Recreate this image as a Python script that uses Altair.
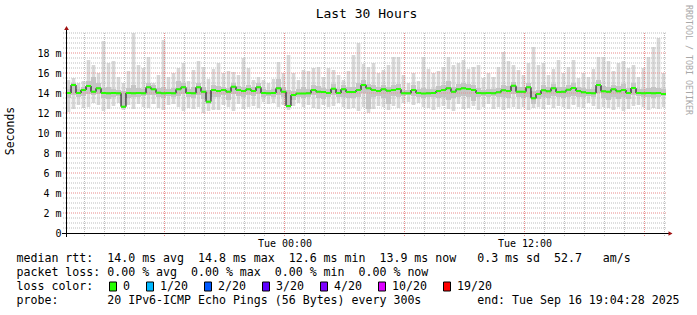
import altair as alt
import pandas as pd

# ---- data (15-minute columns over 30 hours) ----
median = [14.0, 14.8, 14.0, 14.3, 14.7, 14.13, 14.47, 14.0, 13.97, 14.0, 13.97, 12.63, 14.0, 13.97, 14.0,
          13.97, 14.57, 14.37, 14.03, 13.97, 14.0, 13.97, 14.37, 14.57, 14.0, 13.97, 14.57, 14.13, 13.13, 14.3,
          14.2, 14.3, 14.13, 14.63, 14.3, 14.2, 14.37, 14.2, 14.57, 14.0, 13.97, 14.0, 14.47, 14.13, 12.7,
          13.8, 13.95, 13.95, 13.97, 14.3, 14.13, 14.1, 14.0, 14.43, 14.0, 14.37, 14.1, 14.1, 14.3, 14.8,
          14.47, 14.3, 14.2, 14.37, 14.23, 14.3, 14.4, 13.97, 13.97, 14.3, 14.0, 13.95, 13.97, 14.0, 14.2,
          14.3, 14.47, 14.13, 14.37, 14.47, 14.4, 14.3, 14.0, 13.97, 14.0, 13.97, 14.07, 14.27, 14.2, 14.73,
          14.13, 14.13, 14.57, 13.47, 13.9, 14.27, 14.17, 14.47, 14.1, 14.13, 14.33, 14.5, 14.2, 14.07, 14.0,
          13.97, 14.8, 14.17, 14.13, 14.37, 14.17, 14.3, 14.0, 14.5, 14.0, 13.97, 14.0, 13.97, 14.0, 13.9]

smoke_hi = [15.3, 15.5, 15.0, 15.2, 17.3, 16.8, 16.0, 19.2, 17.0, 17.2, 15.6, 15.0, 16.2, 20.0, 16.8,
            16.5, 17.6, 15.0, 15.8, 19.3, 15.6, 16.0, 16.5, 17.0, 15.2, 16.3, 17.2, 16.6, 15.4, 16.4,
            17.0, 16.0, 16.2, 16.1, 15.8, 17.5, 16.5, 15.3, 15.6, 15.3, 15.0, 15.4, 17.1, 16.0, 17.8,
            16.0, 15.3, 16.3, 16.2, 16.5, 16.6, 15.6, 16.5, 16.3, 15.8, 15.3, 16.2, 17.8, 19.0, 16.9,
            16.6, 17.0, 16.0, 16.3, 16.8, 17.6, 17.6, 15.8, 15.0, 16.0, 15.2, 17.6, 16.4, 16.0, 16.2,
            16.6, 17.6, 16.8, 17.0, 17.3, 16.4, 16.6, 16.8, 15.5, 16.0, 15.6, 16.6, 18.1, 17.2, 16.8,
            16.3, 15.8, 17.0, 18.6, 16.8, 17.0, 15.8, 16.4, 17.3, 16.0, 16.6, 17.3, 15.5, 16.0, 15.6,
            16.4, 17.6, 17.6, 17.2, 16.2, 17.0, 17.2, 16.5, 16.8, 15.6, 16.5, 17.6, 18.6, 19.5, 16.0]

smoke_lo = [12.1, 12.4, 12.8, 12.5, 12.6, 13.0, 12.8, 12.2, 12.4, 12.7, 13.0, 12.3, 12.8, 12.4, 12.9,
            12.6, 12.5, 12.9, 12.5, 12.3, 12.8, 12.9, 12.6, 12.2, 12.5, 12.4, 12.6, 12.0, 12.2, 12.3,
            12.3, 12.8, 12.6, 12.2, 12.9, 12.4, 12.6, 12.7, 12.5, 13.1, 12.9, 13.0, 12.6, 12.8, 12.3,
            12.7, 13.0, 12.6, 12.8, 12.5, 12.4, 12.8, 12.6, 12.7, 13.0, 12.6, 12.4, 12.5, 12.2, 12.6,
            12.0, 12.4, 12.7, 12.6, 12.3, 12.7, 12.5, 13.0, 13.1, 12.8, 13.0, 12.6, 12.5, 12.3, 12.6,
            12.7, 12.4, 12.2, 12.9, 12.4, 12.5, 12.7, 12.3, 12.6, 12.9, 12.4, 12.6, 12.3, 12.5, 12.6,
            12.4, 12.6, 12.3, 12.5, 12.6, 12.4, 12.8, 12.5, 12.7, 12.6, 12.4, 12.8, 12.6, 12.5, 13.0,
            12.7, 12.4, 12.6, 12.5, 12.3, 12.6, 12.2, 12.4, 12.7, 12.8, 12.6, 12.3, 12.5, 12.4, 12.6]

core_hi = [14.4, 15.0, 14.4, 14.6, 15.2, 15.6, 15.0, 14.5, 14.6, 14.4, 14.3, 14.2, 14.5, 14.8, 14.5,
           14.4, 15.0, 14.8, 14.5, 14.6, 14.4, 14.5, 15.2, 15.0, 14.4, 14.6, 15.0, 14.6, 14.3, 14.8,
           14.7, 14.6, 14.5, 15.0, 14.7, 14.6, 14.8, 14.6, 15.0, 14.4, 14.3, 14.4, 15.4, 14.6, 14.3,
           14.2, 14.4, 14.6, 14.4, 14.8, 14.7, 14.5, 14.4, 14.9, 14.4, 14.8, 14.6, 14.6, 15.0, 15.3,
           14.9, 14.8, 14.6, 14.8, 14.6, 14.8, 14.9, 14.3, 14.3, 14.8, 14.4, 14.5, 14.4, 14.4, 14.7,
           14.8, 15.2, 14.6, 14.9, 15.0, 14.9, 14.8, 14.5, 14.3, 14.4, 14.4, 14.5, 14.8, 14.7, 15.1,
           14.6, 14.6, 15.0, 14.2, 14.3, 14.8, 14.6, 14.9, 14.6, 14.6, 14.8, 15.0, 14.6, 14.5, 14.4,
           14.4, 15.3, 14.7, 14.6, 14.8, 14.7, 14.9, 14.5, 15.0, 14.4, 14.4, 14.5, 14.6, 14.5, 14.4]

core_lo = [13.5, 13.8, 13.6, 13.7, 13.9, 13.8, 13.9, 13.5, 13.4, 13.6, 13.7, 12.5, 13.5, 13.6, 13.6,
           13.7, 13.8, 13.8, 13.6, 13.5, 13.7, 13.6, 13.7, 13.9, 13.6, 13.5, 13.8, 13.4, 12.9, 13.6,
           13.6, 13.8, 13.3, 13.9, 13.7, 13.6, 13.8, 13.7, 13.9, 13.6, 13.7, 13.6, 13.8, 13.6, 12.5,
           13.3, 13.6, 13.5, 13.6, 13.8, 13.5, 13.4, 13.6, 13.8, 13.6, 13.6, 13.5, 13.5, 13.6, 14.0,
           12.4, 13.6, 13.7, 13.5, 12.9, 13.7, 13.6, 13.7, 13.8, 13.7, 13.6, 13.5, 13.6, 13.6, 13.5,
           13.6, 13.3, 13.5, 13.6, 13.7, 13.6, 13.2, 13.6, 13.7, 13.6, 13.7, 13.6, 13.6, 13.5, 13.9,
           13.6, 13.5, 13.6, 12.9, 13.4, 13.6, 13.5, 13.7, 13.6, 13.5, 13.6, 13.7, 13.6, 13.6, 13.7,
           13.6, 14.0, 13.5, 13.3, 13.6, 13.4, 13.6, 13.4, 13.8, 13.7, 13.6, 13.6, 13.5, 13.6, 13.7]

y_ticks = [0, 2, 4, 6, 8, 10, 12, 14, 16, 18]
x_ticks = [24, 36]            # hours since Monday 00:00 -> Tue 00:00, Tue 12:00
x_tick_labels = ["Tue 00:00", "Tue 12:00"]

loss_labels = ["0", "1/20", "2/20", "3/20", "4/20", "10/20", "19/20"]
loss_colors = ["#26ff00", "#00b8ff", "#0059ff", "#5e00ff", "#7e00ff", "#dd00ff", "#ff0000"]

title = "Last 30 Hours"
legend_line1 = "median rtt:  14.0 ms avg  14.8 ms max  12.6 ms min  13.9 ms now   0.3 ms sd  52.7   am/s"
legend_line2 = "packet loss: 0.00 % avg  0.00 % max  0.00 % min  0.00 % now"
legend_line3 = "loss color:"
legend_line4 = "probe:       20 IPv6-ICMP Echo Pings (56 Bytes) every 300s        end: Tue Sep 16 19:04:28 2025"

# ---- build tables ----
START = 13 + 4 / 60 + 28 / 3600   # Mon 13:04:28
SPAN = 30.0
STEP = SPAN / len(median)
n = len(median)
t0 = [START + STEP * i for i in range(n)]
df = pd.DataFrame({
    "t0": t0,
    "t1": [t + STEP for t in t0],
    "tc": [t + STEP / 2 for t in t0],
    "med": median, "hi": smoke_hi, "lo": smoke_lo, "chi": core_hi, "clo": core_lo,
})
line_df = pd.DataFrame({"t": t0 + [START + SPAN], "med": median + [median[-1]]})

minor_h = [v / 2 for v in range(1, 41) if (v / 2) % 2 != 0 or v / 2 == 20]
major_h = [v for v in range(2, 19, 2)]
hours = list(range(14, 44))
major_v = [h for h in hours if h % 6 == 0]
minor_v = [h for h in hours if h % 6 != 0]

MONO = "DejaVu Sans Mono"
xs = alt.Scale(domain=[START, START + SPAN], nice=False, zero=False)
ys = alt.Scale(domain=[0, 20], nice=False, zero=True)

label_map = " : ".join(f"datum.value == {v} ? '{s}'" for v, s in zip(x_ticks, x_tick_labels))
xax = alt.Axis(values=x_ticks, labelExpr=label_map + " : ''", title=None, grid=False, ticks=False,
               domain=False, labelFont=MONO, labelFontSize=10, labelColor="black", labelPadding=5,
               labelFlush=False, labelOverlap=False)
yax = alt.Axis(values=y_ticks, labelExpr="datum.value == 0 ? '0\u00a0\u00a0' : datum.value + ' m'",
               title=None, grid=False, ticks=False, domain=False, labelFont=MONO, labelFontSize=10,
               labelColor="black", labelPadding=5, labelFlush=False, labelOverlap=False)


def X(f):
    return alt.X(f, type="quantitative", scale=xs, axis=xax)


def Y(f):
    return alt.Y(f, type="quantitative", scale=ys, axis=yax)


smoke = alt.Chart(df).mark_rule(color="#d8d8d8", strokeWidth=3.6).encode(x=X("tc"), y=Y("lo"), y2="hi")
core = alt.Chart(df).mark_rect(color="#c6c6c6").encode(x=X("t0"), x2="t1", y=Y("clo"), y2="chi")


def hgrid(vals, color):
    return alt.Chart(pd.DataFrame({"v": vals})).mark_rule(color=color, strokeWidth=1, strokeDash=[1, 1]).encode(
        y=Y("v"), x=alt.value(-3), x2=alt.value(600))


def vgrid(vals, color):
    return alt.Chart(pd.DataFrame({"h": vals})).mark_rule(color=color, strokeWidth=1, strokeDash=[1, 1]).encode(
        x=X("h"), y=alt.value(0), y2=alt.value(203))


GRID_MINOR = "#bdbdbd"
GRID_MAJOR = "#e98b8b"

medline = alt.Chart(line_df).mark_line(interpolate="step-after", color="black", strokeWidth=1).encode(
    x=X("t"), y=Y("med"))
medgreen = alt.Chart(df).mark_rule(color="#26ff00", strokeWidth=2).encode(x=X("t0"), x2="t1", y=Y("med"))

one = alt.Data(values=[{"a": 1}])
yaxis_line = alt.Chart(one).mark_rule(color="black").encode(x=alt.value(0.5), y=alt.value(204), y2=alt.value(-4))
xaxis_line = alt.Chart(one).mark_rule(color="black").encode(x=alt.value(-4), x2=alt.value(603), y=alt.value(200.5))
arrow_up = alt.Chart(one).mark_point(shape="triangle-up", filled=True, size=22, color="#a01010", opacity=1).encode(
    x=alt.value(0.5), y=alt.value(-5))
arrow_right = alt.Chart(one).mark_point(shape="triangle-right", filled=True, size=22, color="#a01010", opacity=1).encode(
    x=alt.value(604.5), y=alt.value(200.5))


def txt(s, x, y, size=11.6, color="black", angle=0, align="left"):
    return alt.Chart(one).mark_text(text=s.replace(" ", "\u00a0"), font=MONO, fontSize=size, color=color,
                                    angle=angle, align=align, baseline="middle").encode(
        x=alt.value(x), y=alt.value(y))


texts = [
    txt(title, 300.5, -19.5, size=13, align="center"),
    txt("Seconds", -55, 98, size=11.5, angle=270, align="center"),
    txt("RRDTOOL / TOBI OETIKER", 621.5, 27, size=8.3, color="#a8a8a8", angle=90, align="center"),
    txt(legend_line1, -49.5, 226),
    txt(legend_line2, -49.5, 240),
    txt(legend_line3, -49.5, 254),
    txt(legend_line4, -49.5, 268),
]

boxes = []
bx = 109
for lab, col in zip(loss_labels, loss_colors):
    rx = bx - 66
    boxes.append(alt.Chart(one).mark_rect(fill=col, stroke="black", strokeWidth=1).encode(
        x=alt.value(rx + 0.5), x2=alt.value(rx + 7.5), y=alt.value(249), y2=alt.value(258)))
    boxes.append(txt(lab, rx + 14, 254))
    bx = bx + 14 + 7 * len(lab) + 16

chart = alt.layer(
    smoke, core,
    hgrid(minor_h, GRID_MINOR), vgrid(minor_v, GRID_MINOR),
    hgrid(major_h, GRID_MAJOR), vgrid(major_v, GRID_MAJOR),
    medline, medgreen,
    yaxis_line, xaxis_line, arrow_up, arrow_right,
    *texts, *boxes,
).properties(
    width=600, height=200,
    autosize=alt.AutoSizeParams(type="none"),
    padding={"left": 66, "top": 33, "right": 31, "bottom": 82},
    background="white",
).configure_view(stroke=None)

chart.save("out.html", embed_options={"renderer": "svg", "actions": False})
